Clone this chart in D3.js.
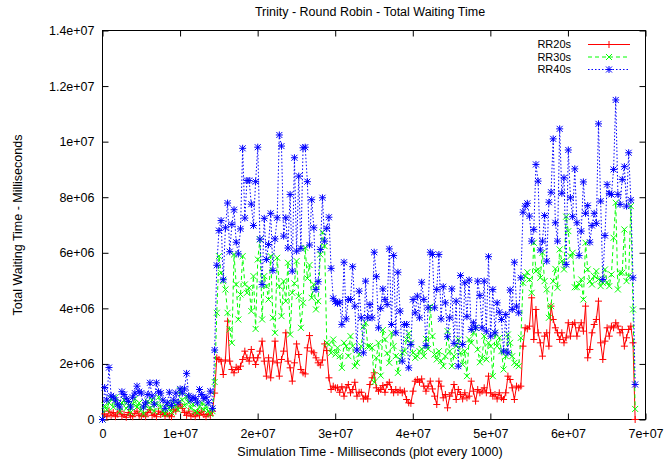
<!DOCTYPE html>
<html>
<head>
<meta charset="utf-8">
<script src="https://cdn.jsdelivr.net/npm/d3@7"></script>
<style>
  body { margin: 0; background: #fff; }
  svg { display: block; font-family: 'Liberation Sans', Arial, sans-serif; }
</style>
</head>
<body>
<div id="chart"></div>
<script>
// values, in millions of ms, one sample every sampleStep ms
let sampleStep = 278000

let seriesNames = ['RR20s', 'RR30s', 'RR40s']

let rr20s = [
  0.0, 0.2, 0.1, 0.3, 0.15, 0.25, 0.1, 0.2, 0.3, 0.12, 0.18, 0.08, 0.25, 0.15, 0.1, 0.22, 0.3, 0.15, 0.12, 0.2,
  0.1, 0.25, 0.35, 0.15, 0.2, 0.1, 0.3, 0.18, 0.25, 0.12, 0.2, 0.15, 0.1, 0.35, 0.3, 0.45, 0.55, 0.4, 0.25, 0.15,
  0.3, 0.12, 0.2, 0.1, 0.25, 0.15, 0.3, 0.18, 0.1, 0.2, 0.15, 0.3,
  0.95,
  2.22, 2.16, 2.1, 1.62, 2.14, 3.54, 2.1, 1.8, 1.68, 1.88, 1.8, 1.92, 2.16, 2.46, 2.22, 2.1, 2.52, 2.22, 1.98, 2.22,
  2.46, 2.82, 2.1, 1.56, 2.22, 1.5, 2.1, 2.82, 2.04, 1.56, 2.16, 2.46, 3.12, 2.1, 1.86, 1.38, 2.04, 2.72, 2.34, 1.8,
  1.68, 1.64, 2.58, 3.02, 2.46, 2.4, 2.22, 2.04, 1.96, 2.14, 2.72, 2.48, 1.5, 1.08, 1.2, 1.14,
  1.14, 0.98, 1.18, 0.84, 1.14, 1.26, 0.96, 1.08, 1.34, 0.84, 0.98, 0.98, 0.74, 0.84, 0.74, 1.26, 1.5, 1.68, 1.14, 1.02,
  1.08, 1.22, 0.98, 1.26, 1.34, 1.08, 0.96, 1.08, 0.98, 1.06, 0.96, 1.02, 0.72, 0.6, 0.58, 1.02, 1.38, 1.44, 1.34, 1.46,
  1.2, 1.02, 1.2, 1.38, 1.1,
  0.84, 0.54, 1.38, 1.2, 0.78, 0.9, 0.42, 0.84, 0.96, 1.26, 0.72, 1.08, 0.9, 0.74, 0.96, 0.78, 0.84, 1.38, 1.02, 0.66,
  1.08, 0.96, 1.02, 1.14, 0.96, 1.56, 0.96, 0.84, 0.9, 0.74, 0.96, 0.78, 0.72, 0.96, 1.56, 1.44, 1.14, 0.72, 1.2, 1.14,
  1.2,
  2.64, 3.3, 3.26, 3.36, 4.38, 2.88, 3.96, 3.12, 2.76, 2.28, 3.0, 3.12, 2.64, 4.08, 3.6, 3.3, 3.12, 2.88, 3.12, 2.76,
  2.94, 3.48, 3.0, 3.42, 3.48, 3.0, 3.3, 3.48, 3.18, 4.08, 2.22, 2.52, 3.12, 3.42, 3.6, 4.26, 2.76, 2.16, 2.82, 3.3,
  3.0, 3.36, 3.3, 3.48, 3.36, 3.12, 3.24, 2.64, 2.94, 3.24, 3.36, 2.76, 0
]

let rr30s = [
  0.0, 0.5, 0.35, 0.6, 0.75, 0.45, 0.8, 0.55, 0.3, 0.6, 0.7, 0.4, 0.5, 0.25, 0.55, 0.75, 0.45, 0.6, 0.35, 0.2,
  0.5, 0.65, 0.4, 0.7, 0.3, 0.55, 0.8, 0.45, 0.3, 0.2, 0.55, 0.4, 0.25, 0.6, 0.5, 0.35, 1.05, 0.7, 0.5, 0.85,
  0.6, 0.4, 0.55, 0.3, 0.25, 0.45, 0.6, 0.35, 0.5, 0.3, 0.2, 0.3,
  1.35,
  3.84, 5.88, 5.28, 4.98, 4.68, 3.84, 3.24, 2.76, 5.94, 4.86, 3.6, 4.5, 5.88, 4.86, 4.56, 4.74, 3.9, 5.16, 3.26, 5.76,
  6.48, 3.6, 5.16, 4.8, 4.32, 5.88, 3.66, 3.12, 5.82, 4.8, 3.72, 4.98, 4.26, 5.64, 3.06, 4.56, 4.9, 5.7, 4.44, 3.3,
  4.2, 6.18, 5.08, 5.56, 4.38, 4.86, 3.96, 4.26, 5.94, 6.74, 6.24,
  2.76, 2.7, 2.4, 2.88, 2.34,
  2.58, 2.28, 1.86, 2.76, 2.64, 2.28, 3.0, 2.64, 1.92, 2.04, 2.34, 2.64, 3.34, 3.48, 2.64, 2.64, 2.58, 1.34, 2.22, 2.76,
  1.58, 3.22, 2.88, 2.38, 2.04, 3.12, 2.64, 2.28, 1.68, 2.16, 2.4, 2.46, 2.88, 3.1, 2.76, 2.4, 2.22, 2.28, 2.46, 2.54,
  2.28, 2.9, 2.54, 4.06, 3.0, 2.34, 2.16, 2.46, 2.1, 1.92, 2.28, 3.18, 2.46, 1.92, 2.28, 2.64, 2.88, 2.4, 1.98, 2.46,
  1.56, 2.88, 2.76, 3.12, 3.3, 2.52, 2.06, 2.22, 3.0, 2.16, 2.76, 2.64, 1.56, 3.12, 2.64, 2.94, 2.46, 1.8, 2.28, 3.06,
  2.76, 2.28, 2.04, 1.98, 1.92, 2.94,
  4.92, 5.16, 5.3, 5.04, 4.56, 6.36, 5.34, 5.4, 5.1, 6.0, 4.98, 4.68, 3.66, 4.08, 4.98, 5.42, 4.74, 6.12, 5.7, 5.4,
  7.3, 6.78, 5.88, 6.0, 4.76, 4.76, 4.88, 5.04, 4.32, 6.36, 5.4, 4.98, 4.86, 5.16, 5.34, 5.04, 4.8, 4.92, 5.4, 4.94,
  4.8, 5.22, 6.54, 7.8, 4.68, 5.28, 5.28, 6.84, 4.98, 5.16, 7.68, 3.96, 0.38
]

let rr40s = [
  0.0, 1.15, 0.7, 1.87, 0.85, 0.8, 0.7, 0.55, 0.45, 1.0, 0.9, 0.75, 0.65, 0.45, 0.8, 0.95, 1.2, 1.0, 0.95, 0.45,
  0.6, 0.9, 1.32, 0.85, 0.55, 1.32, 1.0, 0.95, 0.7, 0.4, 0.6, 0.98, 0.5, 0.7, 0.95, 0.6, 1.1, 0.95, 1.1, 1.66,
  0.85, 0.7, 0.8, 0.75, 0.6, 1.08, 0.9, 0.75, 0.8, 0.6, 1.02, 0.4,
  2.5,
  5.55, 6.8, 7.16, 5.03, 6.9, 7.79, 6.04, 7.02, 7.55, 6.38, 5.96, 6.86, 9.76, 7.25, 8.6, 8.6, 7.75, 6.98, 8.56, 9.8,
  6.49, 4.86, 7.24, 5.76, 6.3, 7.42, 5.36, 6.5, 7.26, 10.24, 9.84, 6.6, 7.26, 6.17, 8.1, 5.34, 9.42, 6.06, 8.76, 6.16,
  9.78, 9.8, 8.56, 6.28, 7.91, 6.9, 4.68, 4.96, 6.12, 7.98, 6.42, 6.88, 7.28, 5.44, 4.36, 4.24,
  4.18, 4.22, 3.42, 5.66, 3.62, 4.32, 4.32, 5.5, 4.08, 2.5, 4.62, 3.66, 2.4, 4.98, 3.66, 4.14, 3.66, 6.02, 5.14, 3.3,
  4.0, 4.7, 4.32, 4.14, 6.14, 3.42, 5.9, 3.12, 5.3, 3.9, 2.1, 3.42, 3.42, 1.86, 2.7, 4.32, 3.84, 4.44, 3.66, 4.94,
  4.32, 2.66, 4.02, 6.02, 5.94, 4.02, 4.68, 5.94, 3.62, 4.78, 4.2, 2.98, 3.66, 4.7, 2.74, 4.26, 1.92, 5.18, 2.7, 4.92,
  3.7, 5.02, 3.24, 3.48, 3.3, 4.98, 4.46, 3.3, 4.98, 3.18, 5.86, 3.0, 4.68, 3.12, 4.2, 3.86, 3.6, 2.46, 3.78, 2.4,
  4.66, 3.96, 5.66, 4.08, 3.84, 5.1,
  7.46, 7.68, 7.78, 7.32, 6.42, 6.84, 9.18,
  8.58, 6.1, 6.42, 7.34, 5.7, 7.82, 8.18, 10.1, 7.08, 6.42, 10.46, 8.14, 8.7, 5.58, 9.7, 7.98, 7.3, 9.02, 7.08, 5.9,
  6.78, 8.55, 7.42, 7.7, 6.38, 6.98, 7.42, 7.06, 10.64, 7.86, 5.04, 6.62, 8.46, 8.14, 8.1, 9.0, 11.5, 8.1, 7.74, 8.64,
  9.1, 7.68, 9.6, 7.9, 5.1, 1.26
]

let seriesColors = ['#ff0000', '#00ff00', '#0000ff']
let seriesDash = [null, '4,3', '1.5,2']
let seriesMarker = ['plus', 'cross', 'star']

let xTicks = [0, 1e7, 2e7, 3e7, 4e7, 5e7, 6e7, 7e7]
let yTicks = [0, 2e6, 4e6, 6e6, 8e6, 1e7, 1.2e7, 1.4e7]

let width = 666
let height = 463
let margin = { top: 30.5, left: 102.5, right: 20.5, bottom: 43.5 }

let svg = d3
  .select('#chart')
  .append('svg')
  .attr('width', width)
  .attr('height', height)

let xScale = d3.scaleLinear().domain([0, 7e7]).range([margin.left, width - margin.right])
let yScale = d3.scaleLinear().domain([0, 1.4e7]).range([height - margin.bottom, margin.top])

// gnuplot style numbers: 2e+06, 1.4e+07
let fmt = v => v === 0 ? '0' : v.toExponential().replace(/e\+(\d)$/, 'e+0$1')

// axes, ticks pointing inward, mirrored on top and right
svg.append('g')
  .attr('transform', 'translate(0,' + (height - margin.bottom) + ')')
  .call(d3.axisBottom(xScale).tickValues(xTicks).tickFormat(fmt).tickSizeInner(-6).tickSizeOuter(0).tickPadding(10))
svg.append('g')
  .attr('transform', 'translate(0,' + margin.top + ')')
  .call(d3.axisTop(xScale).tickValues(xTicks).tickFormat('').tickSizeInner(-6).tickSizeOuter(0))
svg.append('g')
  .attr('transform', 'translate(' + margin.left + ',0)')
  .call(d3.axisLeft(yScale).tickValues(yTicks).tickFormat(fmt).tickSizeInner(-6).tickSizeOuter(0).tickPadding(8))
svg.append('g')
  .attr('transform', 'translate(' + (width - margin.right) + ',0)')
  .call(d3.axisRight(yScale).tickValues(yTicks).tickFormat('').tickSizeInner(-6).tickSizeOuter(0))

svg.selectAll('.domain').remove()
svg.selectAll('.tick line').attr('stroke', '#000')
svg.selectAll('.tick text')
  .attr('fill', '#000')
  .style('font-family', "'Liberation Sans', Arial, sans-serif")
  .style('font-size', '12.5px')

svg.append('rect')
  .attr('x', margin.left)
  .attr('y', margin.top)
  .attr('width', width - margin.right - margin.left)
  .attr('height', height - margin.bottom - margin.top)
  .attr('fill', 'none')
  .attr('stroke', '#000')

let markerPath = {
  plus: 'M-3.5,0H3.5M0,-3.5V3.5',
  cross: 'M-3,-3L3,3M-3,3L3,-3',
  star: 'M-3.5,0H3.5M0,-3.5V3.5M-3,-3L3,3M-3,3L3,-3'
}

let line = d3.line()
  .x(d => xScale(d.t))
  .y(d => yScale(d.v))

let allSeries = [rr20s, rr30s, rr40s]

allSeries.forEach((values, k) => {
  let points = values.map((v, i) => ({ t: i * sampleStep, v: v * 1e6 }))

  svg.append('path')
    .datum(points)
    .attr('d', line)
    .attr('fill', 'none')
    .attr('stroke', seriesColors[k])
    .attr('stroke-width', 1)
    .attr('stroke-dasharray', seriesDash[k])

  svg.append('g')
    .selectAll('path')
    .data(points)
    .enter()
    .append('path')
    .attr('transform', d => 'translate(' + xScale(d.t) + ',' + yScale(d.v) + ')')
    .attr('d', markerPath[seriesMarker[k]])
    .attr('stroke', seriesColors[k])
    .attr('stroke-width', 1)
    .attr('fill', 'none')
})

// key, top right
let key = svg.append('g')
seriesNames.forEach((name, k) => {
  let ky = 44.5 + k * 12.5
  key.append('text')
    .attr('x', 571)
    .attr('y', ky)
    .attr('dy', '0.35em')
    .attr('text-anchor', 'end')
    .style('font-size', '11px')
    .text(name)
  key.append('line')
    .attr('x1', 588)
    .attr('x2', 630)
    .attr('y1', ky)
    .attr('y2', ky)
    .attr('stroke', seriesColors[k])
    .attr('stroke-dasharray', seriesDash[k])
  key.append('path')
    .attr('transform', 'translate(609,' + ky + ')')
    .attr('d', markerPath[seriesMarker[k]])
    .attr('stroke', seriesColors[k])
    .attr('fill', 'none')
})

svg.append('text')
  .attr('x', 370)
  .attr('y', 16)
  .attr('text-anchor', 'middle')
  .style('font-size', '12.5px')
  .text('Trinity - Round Robin - Total Waiting Time')

svg.append('text')
  .attr('x', 370)
  .attr('y', 456)
  .attr('text-anchor', 'middle')
  .style('font-size', '12.5px')
  .text('Simulation Time - Milliseconds (plot every 1000)')

svg.append('text')
  .attr('transform', 'translate(22,225) rotate(-90)')
  .attr('text-anchor', 'middle')
  .style('font-size', '12.5px')
  .text('Total Waiting Time - Milliseconds')
</script>
</body>
</html>
